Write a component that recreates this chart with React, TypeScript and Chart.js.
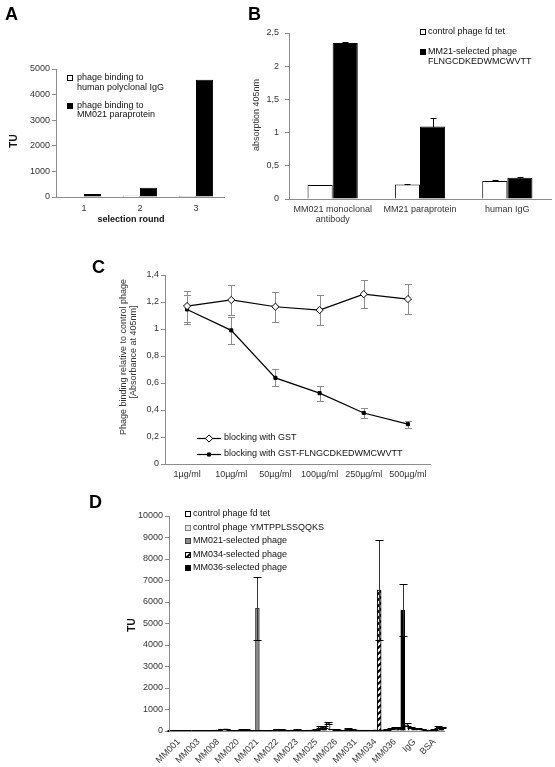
import React, { useEffect, useRef } from 'react';
import { Chart, registerables } from 'chart.js';

Chart.register(...registerables);

const PAGE_W = 555;
const PAGE_H = 767;
const FONT = "'Liberation Sans', Arial, Helvetica, sans-serif";
const AXIS = '#8c8c8c';
const TXT = '#333333';
const INK = '#111111';

// ---------- Panel A : phage titres per selection round ----------
const roundLabels = ['1', '2', '3'];
const bindingHumanIgG = [5, 50, 40];
const bindingParaprotein = [120, 360, 4580];

// ---------- Panel B : ELISA absorption ----------
const targetLabels = [['MM021 monoclonal', 'antibody'], 'MM21 paraprotein', 'human IgG'];
const controlFdTet = [0.21, 0.22, 0.27];
const controlFdTetErr = [0.005, 0.012, 0.012];
const mm21Selected = [2.35, 1.09, 0.32];
const mm21SelectedErr = [0.02, 0.13, 0.012];

// ---------- Panel C : blocking ----------
const concLabels = ['1µg/ml', '10µg/ml', '50µg/ml', '100µg/ml', '250µg/ml', '500µg/ml'];
const gstBlocking = [1.17, 1.215, 1.165, 1.14, 1.258, 1.222];
const gstBlockingErr = [0.115, 0.11, 0.11, 0.11, 0.105, 0.112];
const peptideBlocking = [1.145, 0.99, 0.638, 0.525, 0.378, 0.295];
const peptideBlockingErr = [0.105, 0.098, 0.063, 0.056, 0.038, 0.026];

// ---------- Panel D : specificity across paraproteins ----------
const patientLabels = ['MM001', 'MM003', 'MM008', 'MM020', 'MM021', 'MM022', 'MM023', 'MM025', 'MM026', 'MM031', 'MM034', 'MM036', 'IgG', 'BSA'];
const dFdTet = [20, 15, 30, 20, 25, 30, 20, 40, 380, 110, 40, 80, 290, 30];
const dFdTetErr = [5, 5, 8, 5, 5, 8, 5, 10, 50, 20, 8, 20, 60, 8];
const dYmt = [30, 25, 40, 25, 30, 40, 50, 50, 90, 60, 40, 120, 150, 40];
const dYmtErr = [5, 5, 8, 5, 5, 8, 8, 10, 20, 10, 8, 20, 30, 8];
const dMM021 = [35, 30, 50, 30, 5700, 90, 60, 60, 60, 50, 50, 170, 130, 60];
const dMM021Err = [5, 5, 10, 5, 1450, 15, 10, 10, 10, 10, 10, 30, 30, 10];
const dMM034 = [25, 20, 90, 80, 40, 70, 40, 200, 50, 40, 6560, 150, 110, 190];
const dMM034Err = [5, 5, 15, 15, 8, 10, 8, 40, 10, 8, 2320, 30, 20, 30];
const dMM036 = [20, 20, 100, 70, 30, 50, 30, 180, 40, 40, 50, 5620, 90, 170];
const dMM036Err = [5, 5, 15, 10, 5, 10, 5, 30, 8, 8, 10, 1200, 20, 30];

const commaFmt = (v: number) => {
  const r = Math.round(v * 10) / 10;
  return Math.abs(r - Math.round(r)) < 1e-9 ? String(Math.round(r)) : r.toFixed(1).replace('.', ',');
};
const plainFmt = (v: number) => String(Math.round(v));

// ---------- plugins ----------
function drawErrors(chart: any, opts: any) {
  const ctx = chart.ctx;
  chart.data.datasets.forEach((ds: any, i: number) => {
    const errs = ds.errors;
    if (!errs) return;
    const meta = chart.getDatasetMeta(i);
    const ys = chart.scales[meta.yAxisID];
    meta.data.forEach((el: any, j: number) => {
      const v = ds.data[j];
      const e = errs[j];
      if (v == null || !e) return;
      const x = Math.round(el.x) + 0.5;
      const yt = Math.round(ys.getPixelForValue(v + e)) + 0.5;
      const yb = Math.round(ys.getPixelForValue(opts.plusOnly ? v : v - e)) + 0.5;
      const cap = opts.cap || 3;
      ctx.save();
      ctx.lineWidth = 1;
      ctx.strokeStyle = opts.color || '#000';
      ctx.beginPath();
      ctx.moveTo(x, yt);
      ctx.lineTo(x, yb);
      ctx.stroke();
      ctx.strokeStyle = opts.capColor || opts.color || '#000';
      ctx.beginPath();
      ctx.moveTo(x - cap, yt);
      ctx.lineTo(x + cap, yt);
      if (!opts.plusOnly) {
        ctx.moveTo(x - cap, yb);
        ctx.lineTo(x + cap, yb);
      }
      ctx.stroke();
      ctx.restore();
    });
  });
}

const errorPlugin = {
  id: 'errorBars',
  beforeDatasetsDraw(chart: any, _a: any, opts: any) {
    if (opts && opts.under) drawErrors(chart, opts);
  },
  afterDatasetsDraw(chart: any, _a: any, opts: any) {
    if (opts && !opts.under) drawErrors(chart, opts);
  },
};

const legendPlugin = {
  id: 'insetLegend',
  afterDraw(chart: any, _a: any, opts: any) {
    if (!opts || !opts.entries) return;
    const ctx = chart.ctx;
    const lh = opts.lineHeight || 10;
    opts.entries.forEach((en: any) => {
      const ds = chart.data.datasets[en.dataset];
      const y = en.y;
      ctx.save();
      if (opts.kind === 'line') {
        const x0 = opts.lineX0;
        const x1 = opts.lineX1;
        const yy = Math.round(y) + 0.5;
        ctx.strokeStyle = ds.borderColor;
        ctx.lineWidth = ds.borderWidth || 1;
        ctx.beginPath();
        ctx.moveTo(x0, yy);
        ctx.lineTo(x1, yy);
        ctx.stroke();
        const cx = (x0 + x1) / 2;
        const r = ds.pointRadius;
        ctx.fillStyle = ds.pointBackgroundColor;
        ctx.strokeStyle = ds.pointBorderColor;
        ctx.lineWidth = 1;
        ctx.beginPath();
        if (ds.pointStyle === 'rectRot') {
          ctx.moveTo(cx, yy - r);
          ctx.lineTo(cx + r, yy);
          ctx.lineTo(cx, yy + r);
          ctx.lineTo(cx - r, yy);
          ctx.closePath();
        } else {
          const s = r * Math.SQRT1_2;
          ctx.rect(cx - s, yy - s, 2 * s, 2 * s);
        }
        ctx.fill();
        ctx.stroke();
      } else {
        const s = opts.boxSize || 6;
        const bx = Math.round(opts.boxX);
        const by = Math.round(y - s / 2);
        ctx.fillStyle = ds.backgroundColor;
        ctx.fillRect(bx, by, s, s);
        ctx.strokeStyle = ds.borderColor;
        ctx.lineWidth = 1;
        ctx.strokeRect(bx + 0.5, by + 0.5, s - 1, s - 1);
      }
      ctx.fillStyle = opts.color || INK;
      ctx.font = `${opts.size || 9}px ${FONT}`;
      ctx.textAlign = 'left';
      ctx.textBaseline = 'middle';
      const lines: string[] = ds.legendLines || [ds.label];
      lines.forEach((t, k) => ctx.fillText(t, opts.textX, y + k * lh));
      ctx.restore();
    });
  },
};

const textPlugin = {
  id: 'pageTexts',
  afterDraw(chart: any, _a: any, opts: any) {
    if (!opts || !opts.items) return;
    const ctx = chart.ctx;
    opts.items.forEach((it: any) => {
      ctx.save();
      ctx.font = `${it.bold ? 'bold ' : ''}${it.size || 9}px ${FONT}`;
      ctx.fillStyle = it.color || INK;
      ctx.textAlign = it.align || 'center';
      ctx.textBaseline = it.baseline || 'middle';
      ctx.translate(it.x, it.y);
      if (it.rotate) ctx.rotate((it.rotate * Math.PI) / 180);
      ctx.fillText(it.text, 0, 0);
      ctx.restore();
    });
  },
};

// ---------- helpers ----------
function area(L: number, T: number, R: number, B: number, yW: number, xH: number) {
  return { left: L - yW, top: T, right: PAGE_W - R, bottom: PAGE_H - B - xH };
}

function yAxis(max: number, step: number, width: number, fmt: (v: number) => string, pad: number) {
  return {
    min: 0,
    max,
    ticks: { stepSize: step, color: TXT, font: { size: 9 }, padding: pad, autoSkip: false, callback: (v: any) => fmt(Number(v)) },
    grid: { drawOnChartArea: false, drawTicks: true, tickLength: 4, color: AXIS },
    border: { display: true, color: AXIS, z: 1 },
    afterFit: (s: any) => {
      s.width = width;
    },
  };
}

function xAxis(height: number, pad: number, rotation = 0) {
  return {
    offset: true,
    ticks: {
      color: TXT,
      font: { size: 9, lineHeight: 1.1 },
      padding: pad,
      autoSkip: false,
      maxRotation: rotation,
      minRotation: rotation,
    },
    grid: { display: false, drawTicks: false },
    border: { display: true, color: AXIS, z: 1 },
    afterFit: (s: any) => {
      s.height = height;
    },
  };
}

const baseOptions = {
  responsive: false,
  animation: false as const,
  devicePixelRatio: 1,
  events: [] as any[],
};

const basePlugins = {
  legend: { display: false },
  tooltip: { enabled: false },
  title: { display: false },
};

function makeStripePattern(): any {
  const c = document.createElement('canvas');
  c.width = 6;
  c.height = 6;
  const g = c.getContext('2d');
  if (!g) return '#777';
  g.fillStyle = '#fff';
  g.fillRect(0, 0, 6, 6);
  g.strokeStyle = '#000';
  g.lineWidth = 2;
  g.beginPath();
  g.moveTo(-1, 7);
  g.lineTo(7, -1);
  g.moveTo(-4, 4);
  g.lineTo(4, -4);
  g.moveTo(2, 10);
  g.lineTo(10, 2);
  g.stroke();
  return g.createPattern(c, 'repeat') || '#777';
}

function chartA(cv: HTMLCanvasElement) {
  return new Chart(cv, {
    type: 'bar',
    data: {
      labels: roundLabels,
      datasets: [
        {
          label: 'phage binding to human polyclonal IgG',
          legendLines: ['phage binding to', 'human polyclonal IgG'],
          data: bindingHumanIgG,
          backgroundColor: '#ffffff',
          borderColor: '#000000',
          borderWidth: 1,
          categoryPercentage: 0.61,
          barPercentage: 1,
        } as any,
        {
          label: 'phage binding to MM021 paraprotein',
          legendLines: ['phage binding to', 'MM021 paraprotein'],
          data: bindingParaprotein,
          backgroundColor: '#000000',
          borderColor: '#000000',
          borderWidth: 1,
          categoryPercentage: 0.61,
          barPercentage: 1,
        } as any,
      ],
    },
    options: {
      ...baseOptions,
      layout: { padding: area(56, 69, 224, 197, 50, 20), autoPadding: false } as any,
      scales: { x: xAxis(20, 7) as any, y: yAxis(5000, 1000, 50, plainFmt, 2) as any },
      plugins: {
        ...basePlugins,
        insetLegend: { kind: 'box', boxX: 67, boxSize: 6, textX: 77, size: 9, lineHeight: 9.5, entries: [{ dataset: 0, y: 78 }, { dataset: 1, y: 105.5 }] },
        pageTexts: {
          items: [
            { text: 'A', x: 5, y: 20, size: 18, bold: true, align: 'left', baseline: 'alphabetic', color: '#000' },
            { text: 'TU', x: 14, y: 141, size: 10, bold: true, rotate: -90 },
            { text: 'selection round', x: 131, y: 220, size: 9, bold: true },
          ],
        },
      } as any,
    },
    plugins: [errorPlugin, legendPlugin, textPlugin] as any,
  });
}

function chartB(cv: HTMLCanvasElement) {
  return new Chart(cv, {
    type: 'bar',
    data: {
      labels: targetLabels as any,
      datasets: [
        {
          label: 'control phage fd tet',
          data: controlFdTet,
          errors: controlFdTetErr,
          backgroundColor: '#ffffff',
          borderColor: '#000000',
          borderWidth: 1,
          categoryPercentage: 0.575,
          barPercentage: 1,
        } as any,
        {
          label: 'MM21-selected phage FLNGCDKEDWMCWVTT',
          legendLines: ['MM21-selected phage', 'FLNGCDKEDWMCWVTT'],
          data: mm21Selected,
          errors: mm21SelectedErr,
          backgroundColor: '#000000',
          borderColor: '#000000',
          borderWidth: 1,
          categoryPercentage: 0.575,
          barPercentage: 1,
        } as any,
      ],
    },
    options: {
      ...baseOptions,
      layout: { padding: area(289, 33, 551, 199, 40, 30), autoPadding: false } as any,
      scales: { x: xAxis(30, 6) as any, y: yAxis(2.5, 0.5, 40, commaFmt, 6) as any },
      plugins: {
        ...basePlugins,
        errorBars: { plusOnly: true, color: '#000', cap: 3 },
        insetLegend: { kind: 'box', boxX: 420, boxSize: 6, textX: 428, size: 9, lineHeight: 10, entries: [{ dataset: 0, y: 31.7 }, { dataset: 1, y: 51.7 }] },
        pageTexts: {
          items: [
            { text: 'B', x: 248, y: 20, size: 18, bold: true, align: 'left', baseline: 'alphabetic', color: '#000' },
            { text: 'absorption 405nm', x: 257, y: 115, size: 9, rotate: -90, color: TXT },
          ],
        },
      } as any,
    },
    plugins: [errorPlugin, legendPlugin, textPlugin] as any,
  });
}

function chartC(cv: HTMLCanvasElement) {
  return new Chart(cv, {
    type: 'line',
    data: {
      labels: concLabels,
      datasets: [
        {
          label: 'blocking with GST',
          data: gstBlocking,
          errors: gstBlockingErr,
          borderColor: '#000000',
          borderWidth: 1.2,
          pointStyle: 'rectRot',
          pointRadius: 3.6,
          pointBackgroundColor: '#ffffff',
          pointBorderColor: '#000000',
          pointBorderWidth: 1,
          tension: 0,
          fill: false,
        } as any,
        {
          label: 'blocking with GST-FLNGCDKEDWMCWVTT',
          data: peptideBlocking,
          errors: peptideBlockingErr,
          borderColor: '#000000',
          borderWidth: 1.2,
          pointStyle: 'rect',
          pointRadius: 2.2,
          pointBackgroundColor: '#000000',
          pointBorderColor: '#000000',
          pointBorderWidth: 1,
          tension: 0,
          fill: false,
        } as any,
      ],
    },
    options: {
      ...baseOptions,
      layout: { padding: area(165, 275, 430, 464, 40, 20), autoPadding: false } as any,
      scales: { x: xAxis(20, 6) as any, y: yAxis(1.4, 0.2, 40, commaFmt, 2) as any },
      plugins: {
        ...basePlugins,
        errorBars: { under: true, color: '#8c8c8c', cap: 3.5 },
        insetLegend: { kind: 'line', lineX0: 197, lineX1: 221, textX: 224, size: 9, entries: [{ dataset: 0, y: 438 }, { dataset: 1, y: 454 }] },
        pageTexts: {
          items: [
            { text: 'C', x: 92, y: 273, size: 18, bold: true, align: 'left', baseline: 'alphabetic', color: '#000' },
            { text: 'Phage binding relative to control phage', x: 123.5, y: 357, size: 9, rotate: -90, color: TXT },
            { text: '[Absorbance at 405nm]', x: 134, y: 352, size: 9, rotate: -90, color: TXT },
          ],
        },
      } as any,
    },
    plugins: [errorPlugin, legendPlugin, textPlugin] as any,
  });
}

function chartD(cv: HTMLCanvasElement) {
  const stripes = makeStripePattern();
  const common = { borderWidth: 1, categoryPercentage: 1, barPercentage: 1 };
  return new Chart(cv, {
    type: 'bar',
    data: {
      labels: patientLabels,
      datasets: [
        { label: 'control phage fd tet', data: dFdTet, errors: dFdTetErr, backgroundColor: '#ffffff', borderColor: '#000000', ...common } as any,
        { label: 'control phage YMTPPLSSQQKS', data: dYmt, errors: dYmtErr, backgroundColor: '#e6e6e6', borderColor: '#7f7f7f', ...common } as any,
        { label: 'MM021-selected phage', data: dMM021, errors: dMM021Err, backgroundColor: '#8c8c8c', borderColor: '#404040', ...common } as any,
        { label: 'MM034-selected phage', data: dMM034, errors: dMM034Err, backgroundColor: stripes, borderColor: '#000000', ...common } as any,
        { label: 'MM036-selected phage', data: dMM036, errors: dMM036Err, backgroundColor: '#000000', borderColor: '#000000', ...common } as any,
      ],
    },
    options: {
      ...baseOptions,
      layout: { padding: area(169, 516, 444, 731, 45, 36), autoPadding: false } as any,
      scales: { x: xAxis(36, 6, 45) as any, y: yAxis(10000, 1000, 45, plainFmt, 2) as any },
      plugins: {
        ...basePlugins,
        errorBars: { color: '#333', capColor: '#000', cap: 4 },
        insetLegend: {
          kind: 'box',
          boxX: 185,
          boxSize: 6,
          textX: 193,
          size: 9,
          entries: [
            { dataset: 0, y: 514 },
            { dataset: 1, y: 527.5 },
            { dataset: 2, y: 541 },
            { dataset: 3, y: 554.5 },
            { dataset: 4, y: 568 },
          ],
        },
        pageTexts: {
          items: [
            { text: 'D', x: 89, y: 508, size: 18, bold: true, align: 'left', baseline: 'alphabetic', color: '#000' },
            { text: 'TU', x: 132, y: 625, size: 10, bold: true, rotate: -90 },
          ],
        },
      } as any,
    },
    plugins: [errorPlugin, legendPlugin, textPlugin] as any,
  });
}

export default function App() {
  const refA = useRef<HTMLCanvasElement>(null);
  const refB = useRef<HTMLCanvasElement>(null);
  const refC = useRef<HTMLCanvasElement>(null);
  const refD = useRef<HTMLCanvasElement>(null);

  useEffect(() => {
    Chart.defaults.font.family = FONT;
    Chart.defaults.color = TXT;
    document.body.style.margin = '0';
    const charts: Chart[] = [];
    if (refA.current) charts.push(chartA(refA.current));
    if (refB.current) charts.push(chartB(refB.current));
    if (refC.current) charts.push(chartC(refC.current));
    if (refD.current) charts.push(chartD(refD.current));
    return () => {
      charts.forEach((c) => c.destroy());
    };
  }, []);

  const cvStyle: React.CSSProperties = { position: 'absolute', left: 0, top: 0, width: PAGE_W, height: PAGE_H };
  return (
    <div style={{ position: 'fixed', left: 0, top: 0, width: PAGE_W, height: PAGE_H, background: '#ffffff', overflow: 'hidden' }}>
      <canvas ref={refA} width={PAGE_W} height={PAGE_H} style={cvStyle} />
      <canvas ref={refB} width={PAGE_W} height={PAGE_H} style={cvStyle} />
      <canvas ref={refC} width={PAGE_W} height={PAGE_H} style={cvStyle} />
      <canvas ref={refD} width={PAGE_W} height={PAGE_H} style={cvStyle} />
    </div>
  );
}
